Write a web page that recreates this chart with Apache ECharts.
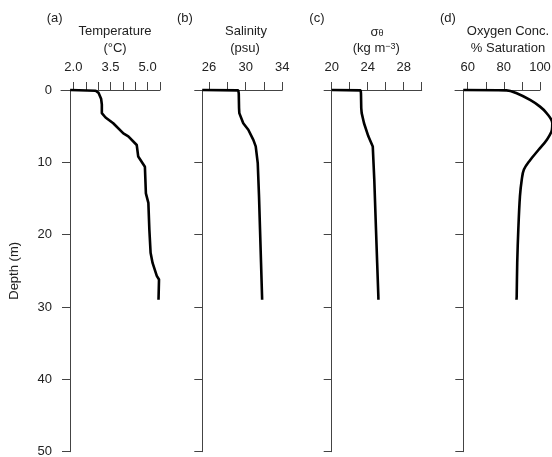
<!DOCTYPE html>
<html><head><meta charset="utf-8">
<script src="https://cdn.jsdelivr.net/npm/echarts@6/dist/echarts.min.js"></script>
<style>html,body{margin:0;padding:0;background:#fff}#c{width:552px;height:457px}</style>
</head><body><div id="c"></div>
<script>
// ---- data (depth in m, value) ----
const depthTicks = [0, 10, 20, 30, 40, 50];

const tempDepth = [0, 0.1, 0.4, 1.2, 2.0, 3.2, 3.8, 4.6, 6.0, 6.4, 7.6, 9.2, 10.6, 14.3, 15.6, 19.3, 22.5, 23.9, 25.7, 26.2, 29];
const tempValue = [1.87, 2.9, 3.02, 3.12, 3.15, 3.15, 3.3, 3.61, 4.02, 4.22, 4.56, 4.62, 4.89, 4.93, 5.03, 5.07, 5.12, 5.2, 5.37, 5.46, 5.44];
const tempTicks = [2.0, 2.5, 3.0, 3.5, 4.0, 4.5, 5.0, 5.5];
const tempLabels = [2.0, 3.5, 5.0];

const salDepth = [0, 0.05, 0.5, 2.5, 3.2, 4.6, 5.5, 6.9, 7.8, 10.1, 14.7, 19.3, 23.9, 28.5, 29];
const salValue = [25.27, 29.2, 29.25, 29.28, 29.31, 29.74, 30.29, 30.84, 31.1, 31.32, 31.46, 31.57, 31.68, 31.79, 31.8];
const salTicks = [26, 28, 30, 32, 34];
const salLabels = [26, 30, 34];

const sigDepth = [0, 0.05, 0.5, 2.5, 3.2, 4.6, 6.4, 7.8, 12.4, 19.3, 23.9, 28.5, 29];
const sigValue = [20, 23.22, 23.25, 23.28, 23.33, 23.59, 24.07, 24.56, 24.73, 24.92, 25.05, 25.18, 25.19];
const sigTicks = [20, 22, 24, 26, 28, 30];
const sigLabels = [20, 24, 28];

const oxyDepth = [0, 0.05, 0.46, 1.38, 2.3, 3.2, 4.6, 5.5, 6.9, 8.3, 9.7, 11, 12.4, 14.7, 19.3, 23.9, 28.5, 29];
const oxyValue = [57.57, 81.5, 87.1, 94.5, 100, 103.7, 106.8, 106.6, 103.7, 99.1, 94.5, 91.1, 89.9, 88.9, 88.0, 87.4, 87.1, 87.0];
const oxyTicks = [60, 70, 80, 90, 100];
const oxyLabels = [60, 80, 100];

const FONT = '"Liberation Sans", Arial, sans-serif';
const AXC = '#444';
const TXC = '#222';

function pairs(vals, deps) { return vals.map((v, i) => [v, deps[i]]); }

const panels = [
  {left: 61, width: 99, min: 1.5, max: 5.5, off: -9, ticks: tempTicks, labels: tempLabels, fmt: v => v.toFixed(1), data: pairs(tempValue, tempDepth), first: true},
  {left: 196.7, width: 85.6, min: 24.66, max: 34, off: -5.6, ticks: salTicks, labels: salLabels, fmt: v => String(v), data: pairs(salValue, salDepth)},
  {left: 326.7, width: 95, min: 19.44, max: 30, off: -5, ticks: sigTicks, labels: sigLabels, fmt: v => String(v), data: pairs(sigValue, sigDepth)},
  {left: 455, width: 85, min: 52.97, max: 100, off: -8.3, ticks: oxyTicks, labels: oxyLabels, fmt: v => String(v), data: pairs(oxyValue, oxyDepth), smooth: true, extend: 30}
];

const grid = [], xAxis = [], yAxis = [], series = [];
panels.forEach((p, i) => {
  const gi = grid.length;
  grid.push({left: p.left, width: p.width, top: 90, height: 361.7, containLabel: false, outerBoundsMode: 'none'});
  xAxis.push({
    gridIndex: gi, type: 'value', position: 'top', min: p.min, max: p.max,
    axisLine: {show: true, lineStyle: {color: AXC, width: 1}},
    axisTick: {show: true, length: 8, lineStyle: {color: AXC}, customValues: p.ticks},
    axisLabel: {show: true, margin: 16, color: TXC, fontSize: 13, fontFamily: FONT, customValues: p.labels, formatter: p.fmt},
    splitLine: {show: false}
  });
  yAxis.push({
    gridIndex: gi, type: 'value', inverse: true, min: 0, max: 50, interval: 10, offset: p.off,
    axisLine: {show: true, onZero: false, lineStyle: {color: AXC, width: 1}},
    axisTick: {show: true, length: 8, lineStyle: {color: AXC}},
    axisLabel: {show: !!p.first, margin: 18, color: TXC, fontSize: 13, fontFamily: FONT},
    splitLine: {show: false},
    name: p.first ? 'Depth (m)' : '', nameLocation: 'middle', nameGap: 49, nameRotate: 90,
    nameTextStyle: {color: TXC, fontSize: 13, fontFamily: FONT}
  });
  let sx = gi;
  if (p.extend) {
    // wider overlay grid with identical scale so the curve can run past the axis end
    const pxPerUnit = p.width / (p.max - p.min);
    const gi2 = grid.length;
    grid.push({left: p.left, width: p.width + p.extend, top: 90, height: 361.7, containLabel: false, outerBoundsMode: 'none'});
    xAxis.push({gridIndex: gi2, type: 'value', position: 'top', min: p.min, max: p.max + p.extend / pxPerUnit, show: false, splitLine: {show: false}});
    yAxis.push({gridIndex: gi2, type: 'value', inverse: true, min: 0, max: 50, show: false, splitLine: {show: false}});
    sx = gi2;
  }
  series.push({
    type: 'line', xAxisIndex: sx, yAxisIndex: sx, data: p.data, showSymbol: false, clip: false,
    smooth: p.smooth ? 0.35 : false,
    lineStyle: {color: '#000', width: 2.6}, silent: true, animation: false
  });
});

function txt(x, y, text, align, rich) {
  const st = {text: text, x: x, y: y, font: '13px ' + FONT, fontSize: 13, fontFamily: FONT, fill: TXC,
    align: align || 'center', textAlign: align || 'center', verticalAlign: 'middle', textVerticalAlign: 'middle'};
  if (rich) st.rich = rich;
  return {type: 'text', silent: true, style: st};
}

const graphic = [
  txt(46.7, 18.3, '(a)', 'left'),
  txt(115, 31.7, 'Temperature'),
  txt(115, 48.3, '(°C)'),
  txt(177, 18.3, '(b)', 'left'),
  txt(246, 31.7, 'Salinity'),
  txt(245, 48.3, '(psu)'),
  txt(309.3, 18.3, '(c)', 'left'),
  txt(377, 32, '{a|σ}{b|θ}', 'center', {a: {fontSize: 13, fontFamily: FONT, fill: TXC, color: TXC}, b: {fontSize: 9, fontFamily: FONT, fill: TXC, color: TXC, verticalAlign: 'bottom'}}),
  txt(376.3, 48.3, '{a|(kg m}{b|−3}{a|)}', 'center', {a: {fontSize: 13, fontFamily: FONT, fill: TXC, color: TXC}, b: {fontSize: 9, fontFamily: FONT, fill: TXC, color: TXC, verticalAlign: 'top'}}),
  txt(440, 18.3, '(d)', 'left'),
  txt(508, 31.7, 'Oxygen Conc.'),
  txt(508, 48.3, '% Saturation')
];

const chart = echarts.init(document.getElementById('c'), null, {renderer: 'canvas'});
chart.setOption({animation: false, backgroundColor: '#fff', grid, xAxis, yAxis, series, graphic});
</script></body></html>
